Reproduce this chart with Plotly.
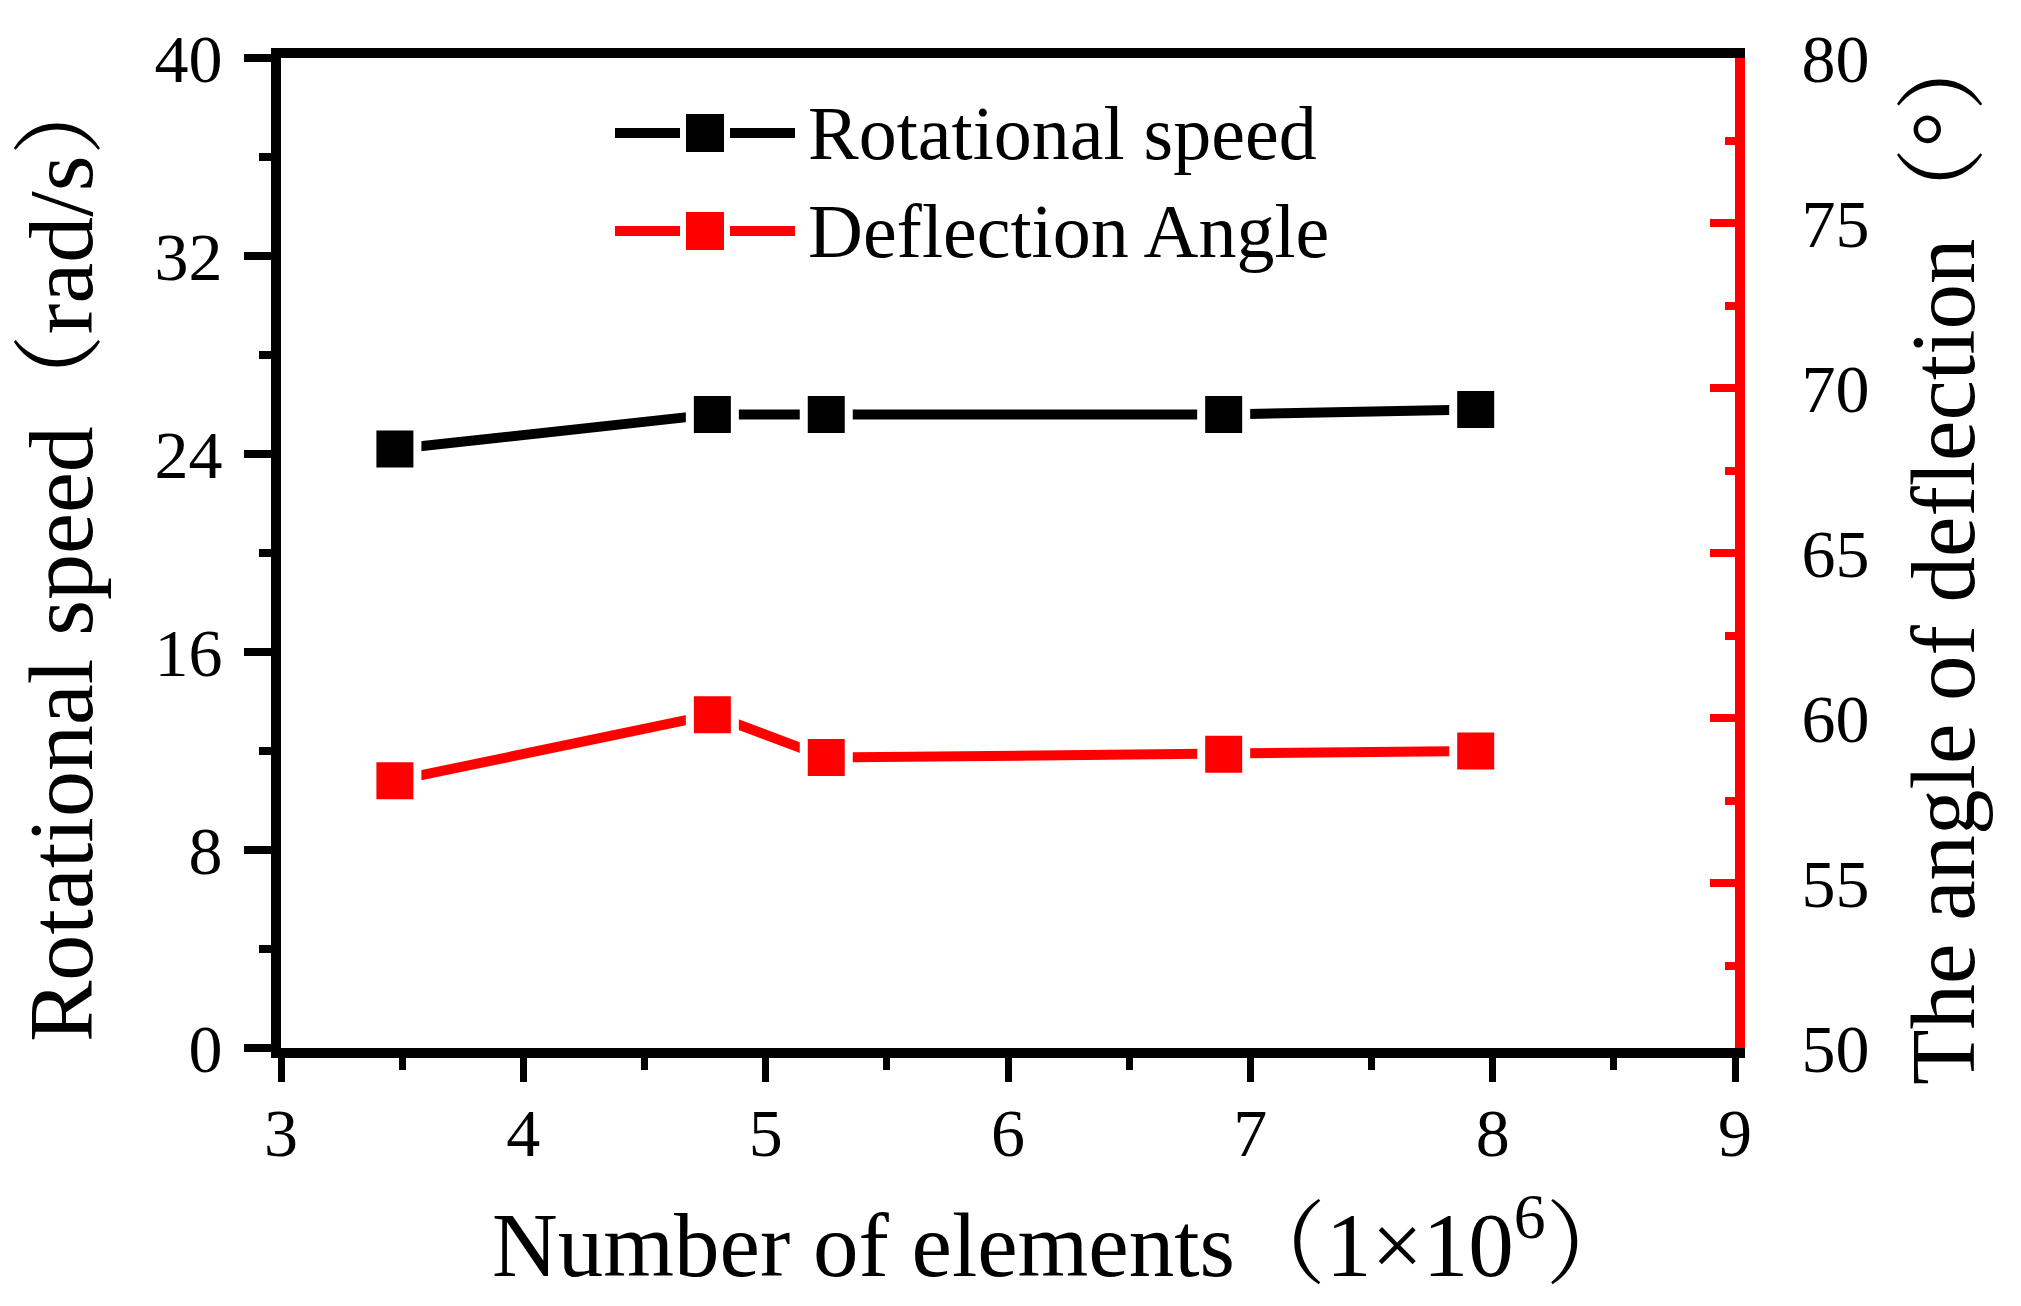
import plotly.graph_objects as go

# ---- data ----
elements = [3.47, 4.78, 5.25, 6.89, 7.93]          # Number of elements (1x10^6)
rot_speed = [24.2, 25.6, 25.6, 25.6, 25.8]          # rad/s (left axis)
deflection = [58.1, 60.1, 58.8, 58.9, 59.0]         # degrees (right axis)

series_names = ["Rotational speed", "Deflection Angle"]
series_colors = ["#000000", "#FF0000"]

x_ticks = [3, 4, 5, 6, 7, 8, 9]
y_left_ticks = [0, 8, 16, 24, 32, 40]
y_right_ticks = [50, 55, 60, 65, 70, 75, 80]

FONT = "Liberation Serif, Times New Roman, Noto Serif CJK SC, Noto Sans CJK SC, serif"
# page body has an 8px default margin -> figure is a bit smaller than the window
OFF = 8
W, H = 2011, 1296
ML, MR, MT, MB = 273, 284, 50, 256
PL = OFF + ML            # plot left edge in window px
PB = OFF + H - MB        # plot bottom edge in window px

fig = go.Figure()

fig.add_trace(go.Scatter(
    x=elements, y=rot_speed, name=series_names[0], mode="lines+markers",
    line=dict(color=series_colors[0], width=10),
    marker=dict(symbol="square", size=45, color=series_colors[0],
                line=dict(color="white", width=8)),
    showlegend=False, cliponaxis=False,
))
fig.add_trace(go.Scatter(
    x=elements, y=deflection, name=series_names[1], mode="lines+markers",
    yaxis="y2",
    line=dict(color=series_colors[1], width=10),
    marker=dict(symbol="square", size=45, color=series_colors[1],
                line=dict(color="white", width=8)),
    showlegend=False, cliponaxis=False,
))

# ---- custom legend (Origin style: long line sample with a big square) ----
plot_w = W - ML - MR
plot_h = H - MT - MB
leg_key_cx = (705 - PL) / plot_w
leg_text_x = (806 - PL) / plot_w
leg_rows_py = [133, 231]
shapes = []
annotations = []
for name, color, py in zip(series_names, series_colors, leg_rows_py):
    yp = (PB - py) / plot_h
    for a, b in [(-90, -25), (25, 90)]:
        shapes.append(dict(type="line", xref="paper", yref="paper",
                           xsizemode="pixel", ysizemode="pixel",
                           xanchor=leg_key_cx, yanchor=yp,
                           x0=a, x1=b, y0=0, y1=0,
                           line=dict(color=color, width=10)))
    shapes.append(dict(type="rect", xref="paper", yref="paper",
                       xsizemode="pixel", ysizemode="pixel",
                       xanchor=leg_key_cx, yanchor=yp,
                       x0=-19, x1=19, y0=-19, y1=19,
                       fillcolor=color, line=dict(width=0)))
    annotations.append(dict(text=name, xref="paper", yref="paper",
                            x=leg_text_x, y=yp, xanchor="left", yanchor="middle",
                            showarrow=False, font=dict(family=FONT, size=76, color="black")))

# ---- axis titles ----
annotations.append(dict(text="Rotational speed（rad/s）", xref="paper", yref="paper",
                        x=0, y=0.500, xshift=-220, xanchor="center", yanchor="middle",
                        textangle=-90, showarrow=False,
                        font=dict(family=FONT, size=92, color="black")))
annotations.append(dict(text="The angle of deflection（°）", xref="paper", yref="paper",
                        x=1, y=0.50, xshift=208, xanchor="center", yanchor="middle",
                        textangle=-90, showarrow=False,
                        font=dict(family=FONT, size=91, color="black")))
annotations.append(dict(text="Number of elements（1×10<sup>6</sup>）", xref="paper", yref="paper",
                        x=0.539, y=0, yshift=-190, xanchor="center", yanchor="middle",
                        showarrow=False,
                        font=dict(family=FONT, size=91, color="black")))

fig.update_layout(
    width=W, height=H,
    margin=dict(l=ML, r=MR, t=MT, b=MB),
    paper_bgcolor="white", plot_bgcolor="white",
    showlegend=False,
    font=dict(family=FONT, color="black"),
    shapes=shapes, annotations=annotations,
    xaxis=dict(
        range=[3, 9], tickvals=x_ticks, showgrid=False, zeroline=False,
        showline=True, linecolor="black", linewidth=10, mirror=True,
        ticks="outside", ticklen=24, tickwidth=7, tickcolor="black",
        minor=dict(dtick=0.5, ticks="outside", ticklen=12, tickwidth=7, tickcolor="black"),
        tickfont=dict(family=FONT, size=68, color="black"),
        ticklabelstandoff=-8,
    ),
    yaxis=dict(
        range=[0, 40], tickvals=y_left_ticks, showgrid=False, zeroline=False,
        showline=True, linecolor="black", linewidth=10,
        ticks="outside", ticklen=27, tickwidth=8, tickcolor="black",
        minor=dict(dtick=4, ticks="outside", ticklen=12, tickwidth=8, tickcolor="black"),
        tickfont=dict(family=FONT, size=68, color="black"),
        ticklabelstandoff=8,
    ),
    yaxis2=dict(
        range=[50, 80], tickvals=y_right_ticks, overlaying="y", side="right",
        showgrid=False, zeroline=False,
        showline=True, linecolor="#FF0000", linewidth=10,
        ticks="inside", ticklen=25, tickwidth=8, tickcolor="#FF0000",
        minor=dict(dtick=2.5, ticks="inside", ticklen=10, tickwidth=8, tickcolor="#FF0000"),
        tickfont=dict(family=FONT, size=68, color="black"),
        ticklabelstandoff=43,
    ),
)

fig.write_html("out.html")
